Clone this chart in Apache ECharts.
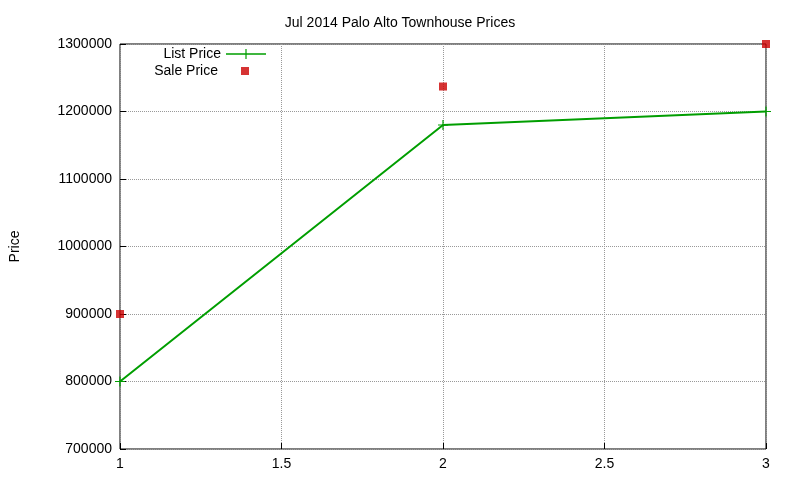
<!DOCTYPE html>
<html><head><meta charset="utf-8">
<script src="https://cdn.jsdelivr.net/npm/echarts@6/dist/echarts.min.js"></script>
<style>html,body{margin:0;padding:0;background:#fff}#c{width:800px;height:480px}</style>
</head><body><div id="c"></div>
<script>
const title = 'Jul 2014 Palo Alto Townhouse Prices';
const xs = [1, 2, 3];
const listPrice = [800000, 1180000, 1200000];
const salePrice = [900000, 1237000, 1300000];
const cross = 'path://M0,4.4L10,4.4L10,5.6L0,5.6ZM4.4,0L5.6,0L5.6,10L4.4,10Z';
const lineCross = 'path://M0,4.2L40,4.2L40,5.8L0,5.8ZM19.4,0L20.6,0L20.6,10L19.4,10Z';
const chart = echarts.init(document.getElementById('c'));
const font = 'Liberation Sans, Arial, sans-serif';
chart.setOption({
  animation: false,
  title: {text: title, left: 'center', top: 11, textStyle: {fontFamily: font, fontSize: 14, fontWeight: 'normal', color: '#000'}},
  grid: {left: 119, right: 34, top: 44, bottom: 31, show: true, borderColor: '#000', borderWidth: 1},
  legend: [{
    right: 534, top: 47, align: 'right', itemWidth: 40, itemHeight: 10, padding: 0,
    textStyle: {fontFamily: font, fontSize: 14, color: '#000'},
    data: [{name: 'List Price', icon: lineCross}]
  }, {
    right: 551, top: 64, align: 'right', itemWidth: 8, itemHeight: 8, padding: 0,
    textStyle: {fontFamily: font, fontSize: 14, color: '#000', padding: [0, 18, 0, 0]},
    data: [{name: 'Sale Price', icon: 'rect'}]
  }],
  xAxis: {
    type: 'value', min: 1, max: 3, interval: 0.5,
    axisLine: {show: false},
    axisTick: {inside: true, length: 6, lineStyle: {color: '#000'}},
    axisLabel: {fontFamily: font, fontSize: 14, color: '#000', margin: 8},
    splitLine: {show: true, lineStyle: {type: 'dotted', color: '#999'}}
  },
  yAxis: {
    type: 'value', min: 700000, max: 1300000, interval: 100000,
    name: 'Price', nameLocation: 'middle', nameGap: 98, nameRotate: 90,
    nameTextStyle: {fontFamily: font, fontSize: 14, color: '#000'},
    axisLine: {show: false},
    axisTick: {inside: true, length: 6, lineStyle: {color: '#000'}},
    axisLabel: {fontFamily: font, fontSize: 14, color: '#000', margin: 8, formatter: v => String(v)},
    splitLine: {show: true, lineStyle: {type: 'dotted', color: '#999'}}
  },
  series: [
    {name: 'List Price', type: 'line', data: xs.map((x, i) => [x, listPrice[i]]),
     symbol: cross, symbolSize: 10, showAllSymbol: true,
     itemStyle: {color: '#009e00'}, lineStyle: {color: '#009e00', width: 2}},
    {name: 'Sale Price', type: 'scatter', data: xs.map((x, i) => [x, salePrice[i]]),
     symbol: 'rect', symbolSize: 8, itemStyle: {color: '#cc0000'}}
  ]
});
</script></body></html>
